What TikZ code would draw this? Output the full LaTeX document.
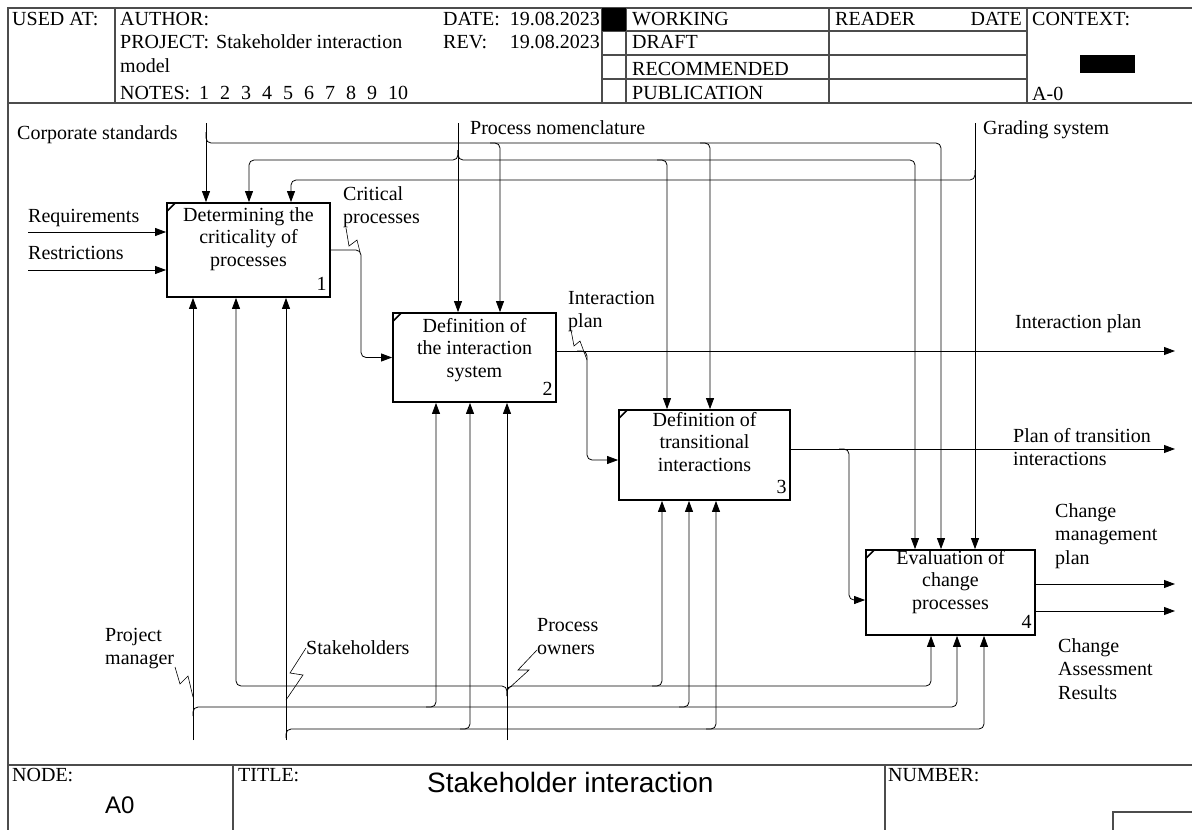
\documentclass[tikz,border=0pt]{standalone}
\usepackage{fontspec}
\setmainfont{Liberation Serif}
\newfontfamily\sansfont{Liberation Sans}
\usetikzlibrary{arrows.meta}

\begin{document}
\begin{tikzpicture}[x=1pt,y=-1pt,>={Triangle[length=11pt,width=8pt]},
  font=\fontsize{20}{23.5}\selectfont,
  sheetline/.style={line width=1.2pt,black!70},
  func/.style={draw,line width=1.8pt,inner sep=0pt},
  ftext/.style={anchor=north,align=center,inner sep=0pt,font=\fontsize{20}{22.5}\selectfont},
  fnum/.style={anchor=base east,inner sep=0pt},
  lbl/.style={anchor=north west,align=left,inner sep=0pt},
  cell/.style={anchor=base west,inner sep=0pt},
  squig/.style={line width=0.6pt},
  link/.style={->,line width=0.8pt,rounded corners=5pt}]
  \useasboundingbox (0,0) rectangle (1192,830);

  % sheet frame
  \draw[sheetline] (1192,8) -- (8,8) -- (8,830);
  \draw[sheetline] (8,103) -- (1192,103);
  \draw[sheetline] (115,8) -- (115,103);
  \draw[sheetline] (602,8) -- (602,103);
  \draw[sheetline] (626,8) -- (626,103);
  \draw[sheetline] (829,8) -- (829,103);
  \draw[sheetline] (1027,8) -- (1027,103);
  \foreach \y in {31,55,79}
    \draw[sheetline] (602,\y) -- (1027,\y);
  \fill (602,8) rectangle (626,31);
  \fill (1080,55) rectangle (1135,73);

  \node[cell] (usedat) at (12,25) {USED AT:};
  \node[cell] (author) at (120,25) {AUTHOR:};
  \node[cell] (date) at (443,25) {DATE:};
  \node[cell,anchor=base east] (dateval) at (600,25) {19.08.2023};
  \node[cell] (project) at (120,48) {PROJECT:};
  \node[cell] (projname) at (216,48) {Stakeholder interaction};
  \node[cell] (rev) at (443,48) {REV:};
  \node[cell,anchor=base east] (revval) at (600,48) {19.08.2023};
  \node[cell] (model) at (120,72) {model};
  \node[cell] (notes) at (120,99) {NOTES:\hspace{9pt}1\hspace{11pt}2\hspace{11pt}3\hspace{11pt}4\hspace{11pt}5\hspace{11pt}6\hspace{11pt}7\hspace{11pt}8\hspace{11pt}9\hspace{11pt}10};
  \node[cell] (working) at (632,25) {WORKING};
  \node[cell] (draft) at (632,48) {DRAFT};
  \node[cell] (recom) at (632,75) {RECOMMENDED};
  \node[cell] (public) at (632,99) {PUBLICATION};
  \node[cell] (reader) at (835,25) {READER};
  \node[cell,anchor=base east] (rdate) at (1022,25) {DATE};
  \node[cell] (context) at (1032,25) {CONTEXT:};
  \node[cell] (ctxnum) at (1032,100) {A-0};

  \draw[sheetline] (8,765) -- (1192,765);
  \draw[sheetline] (233,765) -- (233,830);
  \draw[sheetline] (885,765) -- (885,830);
  \draw[sheetline] (1192,812) -- (1113,812) -- (1113,830);
  \node[cell] (nodehd) at (12,781) {NODE:};
  \node[cell,font=\sansfont\fontsize{24}{24}\selectfont] (nodeval) at (105,813) {A0};
  \node[cell] (titlehd) at (238,781) {TITLE:};
  \node[cell,font=\sansfont\fontsize{28}{28}\selectfont] (titleval) at (427,792) {Stakeholder interaction};
  \node[cell] (numhd) at (888,781) {NUMBER:};

  % functions
  \node[func,minimum width=163pt,minimum height=94pt] (b1) at (248.5,250) {};
  \node[func,minimum width=163pt,minimum height=89pt] (b2) at (474.5,357.5) {};
  \node[func,minimum width=171pt,minimum height=90pt] (b3) at (704.5,455) {};
  \node[func,minimum width=169pt,minimum height=85pt] (b4) at (950.5,592.5) {};
  \foreach \b in {b1,b2,b3,b4}
    \draw[line width=1.5pt] ([shift={(1,9)}]\b.north west) -- ([shift={(9,1)}]\b.north west);
  \node[ftext] (t1) at ([yshift=-5pt]b1.north) {Determining the\\criticality of\\processes};
  \node[ftext] (t2) at ([yshift=-6pt]b2.north) {Definition of\\the interaction\\system};
  \node[ftext] (t3) at ([yshift=-3pt]b3.north) {Definition of\\transitional\\interactions};
  \node[ftext] (t4) at ([yshift=-1pt]b4.north) {Evaluation of\\change\\processes};
  \node[fnum] (n1) at ([shift={(-4,-7)}]b1.south east) {1};
  \node[fnum] (n2) at ([shift={(-4,-7)}]b2.south east) {2};
  \node[fnum] (n3) at ([shift={(-4,-7)}]b3.south east) {3};
  \node[fnum] (n4) at ([shift={(-4,-7)}]b4.south east) {4};

  % arrow ends
  \coordinate (cs) at (206,123);
  \coordinate (pn) at (458,123);
  \coordinate (gs) at (975,123);
  \coordinate (rq) at (28,232);
  \coordinate (rs) at (28,270);
  \coordinate (pm) at (193,740);
  \coordinate (sh) at (286,740);
  \coordinate (po) at (507,740);
  \coordinate (o1) at (1175,351);
  \coordinate (o2) at (1175,449);
  \coordinate (o3) at (1175,584);
  \coordinate (o4) at (1175,611);

  % inputs
  \draw[link] (rq) -- (rq -| b1.west);
  \draw[link] (rs) -- (rs -| b1.west);

  % controls
  \draw[link] (cs) -- (cs |- b1.north);
  \draw[link] (206,132) -- (206,143) -- (941,143) -- (941,143 |- b4.north);
  \draw[link] (490,143) -- (500,143) -- (500,143 |- b2.north);
  \draw[link] (700,143) -- (710,143) -- (710,143 |- b3.north);
  \draw[link] (pn) -- (pn |- b2.north);
  \draw[link] (458,150) -- (458,160) -- (249,160) -- (249,160 |- b1.north);
  \draw[link] (458,150) -- (458,160) -- (915,160) -- (915,160 |- b4.north);
  \draw[link] (657,160) -- (667,160) -- (667,160 |- b3.north);
  \draw[link] (gs) -- (gs |- b4.north);
  \draw[link] (975,170) -- (975,180) -- (291,180) -- (291,180 |- b1.north);

  % outputs
  \draw[link] (b1.east) -- (361,250) -- (361,357.5) -- (b2.west);
  \draw[link] (b2.east |- o1) -- (o1);
  \draw[link] (577,351) -- (587,351) -- (587,460) -- (587,460 -| b3.west);
  \draw[link] (b3.east |- o2) -- (o2);
  \draw[link] (839,449) -- (849,449) -- (849,600) -- (849,600 -| b4.west);
  \draw[link] (b4.east |- o3) -- (o3);
  \draw[link] (b4.east |- o4) -- (o4);

  % mechanisms
  \draw[link] (pm) -- (pm |- b1.south);
  \draw[link] (193,716) -- (193,707) -- (957,707) -- (957,707 |- b4.south);
  \draw[link] (426,707) -- (436,707) -- (436,707 |- b2.south);
  \draw[link] (679,707) -- (689,707) -- (689,707 |- b3.south);
  \draw[link] (sh) -- (sh |- b1.south);
  \draw[link] (286,738) -- (286,729) -- (984,729) -- (984,729 |- b4.south);
  \draw[link] (460,729) -- (470,729) -- (470,729 |- b2.south);
  \draw[link] (706,729) -- (716,729) -- (716,729 |- b3.south);
  \draw[link] (po) -- (po |- b2.south);
  \draw[link] (507,696) -- (507,686) -- (236,686) -- (236,686 |- b1.south);
  \draw[link] (507,696) -- (507,686) -- (931,686) -- (931,686 |- b4.south);
  \draw[link] (652,686) -- (662,686) -- (662,686 |- b3.south);

  % labels
  \node[lbl] (lcs) at (17,125) {Corporate standards};
  \node[lbl] (lpn) at (470,120) {Process nomenclature};
  \node[lbl] (lgs) at (983,120) {Grading system};
  \node[lbl] (lrq) at (28,209) {Requirements};
  \node[lbl] (lrs) at (28,246) {Restrictions};
  \node[lbl] (lcp) at (343,186) {Critical\\processes};
  \node[lbl] (lip) at (568,291) {Interaction\\plan};
  \node[lbl] (lip2) at (1015,314) {Interaction plan};
  \node[lbl] (lpt) at (1013,428) {Plan of transition\\interactions};
  \node[lbl] (lcm) at (1055,503) {Change\\management\\plan};
  \node[lbl] (lca) at (1058,638) {Change\\Assessment\\Results};
  \node[lbl] (lpm) at (105,628) {Project\\manager};
  \node[lbl] (lsh) at (306,640) {Stakeholders};
  \node[lbl] (lpo) at (537,618) {Process\\owners};

  \draw[squig] (346,228) -- (349,246) -- (357,240) -- (360,252);
  \draw[squig] (571,330) -- (574,346) -- (580,341) -- (587,360);
  \draw[squig] (175,667) -- (180,684) -- (188,676) -- (193,697);
  \draw[squig] (306,648) -- (290,673) -- (303,675) -- (286,700);
  \draw[squig] (537,650) -- (518,670) -- (529,670) -- (507,690);
\end{tikzpicture}
\end{document}
